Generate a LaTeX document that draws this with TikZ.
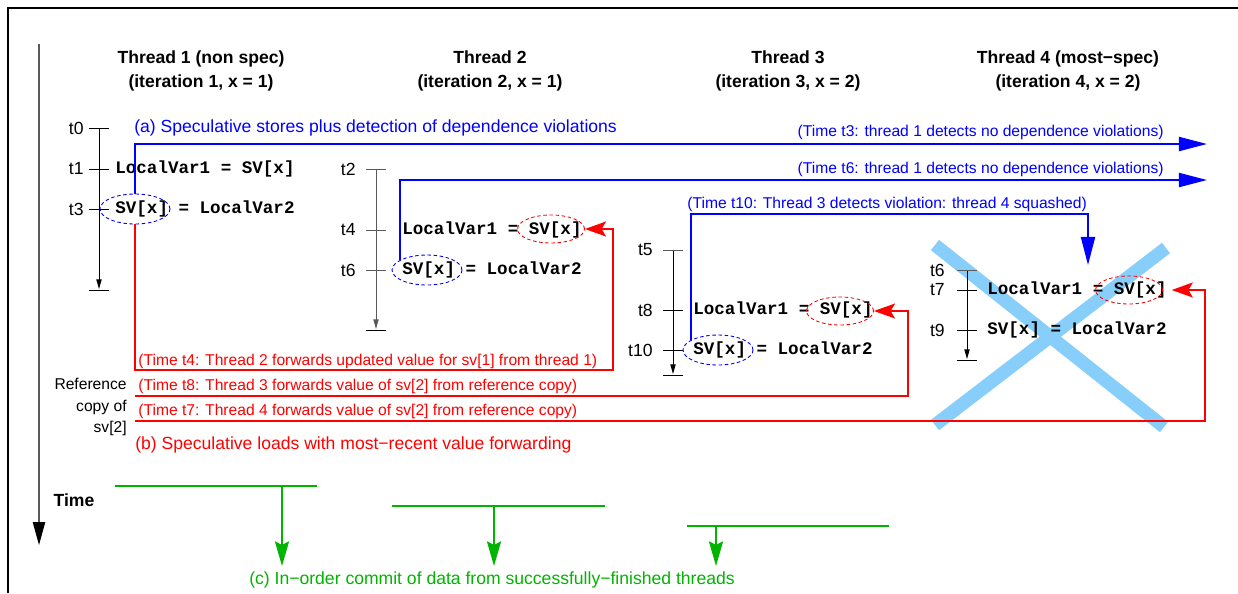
\documentclass[tikz,border=0pt]{standalone}
\usepackage{fontspec}
\setmainfont{Liberation Sans}
\setmonofont{Liberation Mono}
\usetikzlibrary{arrows.meta, shapes.geometric}
\definecolor{storeblue}{RGB}{0,0,255}
\definecolor{loadred}{RGB}{255,0,0}
\definecolor{commitgreen}{RGB}{0,180,0}
\definecolor{squashblue}{RGB}{135,206,250}
\definecolor{tlgray}{RGB}{90,90,90}

\begin{document}
\begin{tikzpicture}[
  x=0.02cm, y=-0.02cm,
  frame/.style={black, line width=0.6pt},
  timeaxis/.style={-{Triangle[length=13pt, width=7pt, black]}, tlgray, line width=0.6pt},
  timeline/.style={-{Triangle[length=5.5pt, width=3pt]}, line width=0.5pt},
  tickmark/.style={line width=0.5pt},
  tlabel/.style={anchor=east, inner sep=0pt, font=\fontsize{10}{12}\selectfont},
  header/.style={align=center, font=\bfseries\fontsize{10}{14}\selectfont},
  code/.style={anchor=west, inner sep=0pt, font=\ttfamily\bfseries\fontsize{10}{12}\selectfont},
  svstore/.style={ellipse, draw=storeblue, line width=0.5pt, dash pattern=on 2pt off 1.5pt,
    minimum width=1.4cm, minimum height=0.6cm, inner sep=0pt},
  svload/.style={ellipse, draw=loadred, line width=0.5pt, dash pattern=on 2pt off 1.5pt,
    minimum width=1.34cm, minimum height=0.56cm, inner sep=0pt},
  store/.style={storeblue, line width=1.1pt, -{Triangle[length=16pt, width=8pt]}},
  load/.style={loadred, line width=1.1pt, -{Stealth[length=12pt, width=8.5pt, inset=2.5pt]}},
  commit/.style={commitgreen, line width=1.1pt},
  commitarrow/.style={commit, -{Stealth[length=14pt, width=8pt, inset=2pt]}},
  note/.style={anchor=west, inner sep=0pt, font=\fontsize{8.9}{10.5}\selectfont},
  caption/.style={inner sep=0pt, font=\fontsize{10}{12}\selectfont},
]
\useasboundingbox (0,0) rectangle (1238,593);

% ===== Frame and time axis =====
\draw[frame] (8,593) -- (8,8) -- (1238,8);
\draw[timeaxis] (39,44) -- (39,545);
\node[font=\bfseries\fontsize{10}{12}\selectfont] (time) at (74,500) {Time};

% Squashed thread (drawn first, sits under the text)
\draw[squashblue, line width=7.5pt] (935,245) -- (1164,427);
\draw[squashblue, line width=7.5pt] (1166,248) -- (935,425);

% ===== Thread headers =====
\node[header] (th1) at (201,71) {Thread 1 (non spec)\\(iteration 1, x = 1)};
\node[header] (th2) at (490,71) {Thread 2\\(iteration 2, x = 1)};
\node[header] (th3) at (788,71) {Thread 3\\(iteration 3, x = 2)};
\node[header] (th4) at (1068,71) {Thread 4 (most−spec)\\(iteration 4, x = 2)};

% ===== Thread 1 =====
\draw[timeline] (99,128) -- (99,289);
\draw[tickmark] (89,128) -- (109,128);
\draw[tickmark] (89,169) -- (109,169);
\draw[tickmark] (89,209) -- (109,209);
\draw[tickmark] (89,290) -- (109,290);
\node[tlabel] (t0) at (84,128) {t0};
\node[tlabel] (t1) at (84,169) {t1};
\node[tlabel] (t3) at (84,209) {t3};
\node[code] (ld1) at (115,169) {LocalVar1 = SV[x]};
\node[code] (st1) at (115,209) {SV[x] = LocalVar2};
\node[svstore] (sv1) at (135,209) {};

% ===== Thread 2 =====
\draw[timeline, tlgray] (376,169) -- (376,329);
\draw[tickmark, tlgray] (366,169) -- (386,169);
\draw[tickmark, tlgray] (366,230) -- (386,230);
\draw[tickmark, tlgray] (366,270) -- (386,270);
\draw[tickmark] (366,330) -- (386,330);
\node[tlabel] (t2) at (356,169) {t2};
\node[tlabel] (t4) at (356,230) {t4};
\node[tlabel] (t6) at (356,270) {t6};
\node[code] (ld2t) at (402,230) {LocalVar1 = SV[x]};
\node[svload] (ld2) at (551,229) {};
\node[code] (st2) at (402,270) {SV[x] = LocalVar2};
\node[svstore] (sv2) at (427,270) {};

% ===== Thread 3 =====
\draw[timeline] (673,250) -- (673,374);
\draw[tickmark, tlgray] (663,250) -- (683,250);
\draw[tickmark] (663,310) -- (683,310);
\draw[tickmark] (663,350) -- (683,350);
\draw[tickmark] (663,375) -- (683,375);
\node[tlabel] (t5) at (653,250) {t5};
\node[tlabel] (t8) at (653,310) {t8};
\node[tlabel] (t10) at (653,350) {t10};
\node[code] (ld3t) at (693,310) {LocalVar1 = SV[x]};
\node[svload] (ld3) at (840,311) {};
\node[code] (st3) at (693,350) {SV[x] = LocalVar2};
\node[svstore] (sv3) at (718,350) {};

% ===== Thread 4 (squashed) =====
\draw[timeline] (967,270) -- (967,359);
\draw[tickmark, tlgray] (957,270) -- (977,270);
\draw[tickmark] (957,290) -- (977,290);
\draw[tickmark] (957,330) -- (977,330);
\draw[tickmark] (957,360) -- (977,360);
\node[tlabel] (t6b) at (945,270) {t6};
\node[tlabel] (t7) at (945,290) {t7};
\node[tlabel] (t9) at (945,330) {t9};
\node[code] (ld4t) at (987,290) {LocalVar1 = SV[x]};
\node[svload] (ld4) at (1129,290) {};
\node[code] (st4) at (987,330) {SV[x] = LocalVar2};

% ===== (a) Speculative stores =====
\node[caption, storeblue, anchor=west] (capa) at (134,128) {(a) Speculative stores plus detection of dependence violations};
\coordinate (st3end) at (1207,144);
\coordinate (st6end) at (1207,180);
\coordinate (sqturn) at (1088,214);
\coordinate (squash) at (1088,265);
\draw[store] (sv1.north) |- (st3end);
\draw[store] (sv2.160) |- (st6end);
\draw[store] (sv3.160) |- (sqturn) -- (squash);
\node[note, storeblue, anchor=east] (n3) at (1164,132) {(Time t3: thread 1 detects no dependence violations)};
\node[note, storeblue, anchor=east] (n6) at (1164,169) {(Time t6: thread 1 detects no dependence violations)};
\node[note, storeblue] (n10) at (687,204) {(Time t10: Thread 3 detects violation: thread 4 squashed)};

% ===== (b) Speculative loads =====
\coordinate (fwd4) at (613,370);
\coordinate (ref8) at (135,396);
\coordinate (fwd8) at (908,396);
\coordinate (ref7) at (135,421);
\coordinate (fwd7) at (1205,421);
\draw[load] (sv1.south) |- (fwd4) |- (ld2.east);
\draw[load] (ref8) -- (fwd8) |- (ld3.east);
\draw[load, shorten >=5pt] (ref7) -- (fwd7) |- (ld4.east);
\node[note, loadred] (n4) at (138,361) {(Time t4: Thread 2 forwards updated value for sv[1] from thread 1)};
\node[note, loadred] (n8) at (138,386) {(Time t8: Thread 3 forwards value of sv[2] from reference copy)};
\node[note, loadred] (n7) at (138,411) {(Time t7: Thread 4 forwards value of sv[2] from reference copy)};
\node[align=right, anchor=east, inner sep=0pt, font=\fontsize{8.9}{12}\selectfont] (ref) at (127,407) {Reference\\copy of\\sv[2]};
\node[caption, loadred, anchor=west] (capb) at (135,445) {(b) Speculative loads with most−recent value forwarding};

% ===== (c) In-order commit =====
\draw[commit] (115,486) -- (317,486);
\draw[commitarrow] (282,486) -- (282,566);
\draw[commit] (392,506) -- (605,506);
\draw[commitarrow] (494,506) -- (494,566);
\draw[commit] (687,526) -- (889,526);
\draw[commitarrow] (716,526) -- (716,566);
\node[caption, commitgreen] (capc) at (492,580) {(c) In−order commit of data from successfully−finished threads};

\end{tikzpicture}
\end{document}
